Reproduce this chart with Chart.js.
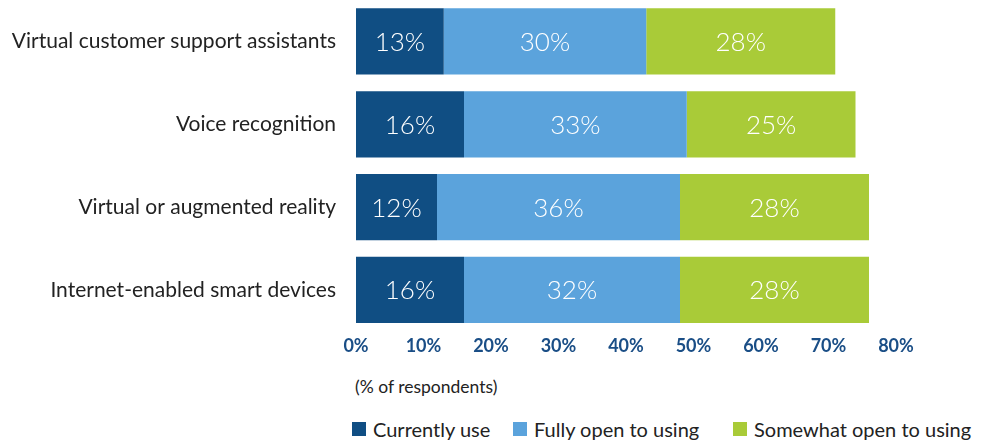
<!DOCTYPE html>
<html>
<head>
<meta charset="utf-8">
<script src="https://cdn.jsdelivr.net/npm/chart.js@4"></script>
<style>
  body { margin: 0; background: #fff; font-family: Lato, sans-serif; }
  #wrap { position: relative; width: 990px; height: 443px; }
  #grafico { position: absolute; left: 0; top: 0; }
  .note { position: absolute; left: 355px; top: 376px; font-size: 17.5px; color: #222; }
  .legend { position: absolute; top: 417px; font-size: 20px; color: #222; display: flex; align-items: center; }
  .legend span.sw { display: inline-block; width: 14px; height: 14px; margin-right: 7px; }
</style>
</head>
<body>
<div id="wrap">
  <canvas id="grafico" width="990" height="362"></canvas>
  <div class="note">(% of respondents)</div>
  <div class="legend" style="left:352px"><span class="sw" style="background:#104e83"></span>Currently use</div>
  <div class="legend" style="left:513px"><span class="sw" style="background:#5ba3dc"></span>Fully open to using</div>
  <div class="legend" style="left:733px"><span class="sw" style="background:#a9cb38"></span>Somewhat open to using</div>
</div>
<script>
const categorias = [
  "Virtual customer support assistants",
  "Voice recognition",
  "Virtual or augmented reality",
  "Internet-enabled smart devices",
];
const usaHoje = [13, 16, 12, 16];
const abertoTotal = [30, 33, 36, 32];
const abertoParcial = [28, 25, 28, 28];
const ticksX = [0, 10, 20, 30, 40, 50, 60, 70, 80];

// escreve o valor no meio de cada barra
const rotulosBarras = {
  id: "rotulosBarras",
  afterDatasetsDraw(chart) {
    const ctx = chart.ctx;
    ctx.save();
    ctx.fillStyle = "#ffffff";
    ctx.font = "300 26px Lato";
    ctx.textAlign = "center";
    ctx.textBaseline = "middle";
    chart.data.datasets.forEach((dataset, i) => {
      chart.getDatasetMeta(i).data.forEach((barra, j) => {
        const meio = (barra.x + barra.base) / 2;
        ctx.fillText(dataset.data[j] + "%", meio, barra.y + 1);
      });
    });
    ctx.restore();
  },
};

const grafico = new Chart(document.getElementById("grafico"), {
  type: "bar",
  data: {
    labels: categorias,
    datasets: [
      { label: "Currently use", data: usaHoje, backgroundColor: "#104e83" },
      { label: "Fully open to using", data: abertoTotal, backgroundColor: "#5ba3dc" },
      { label: "Somewhat open to using", data: abertoParcial, backgroundColor: "#a9cb38" },
    ],
  },
  options: {
    indexAxis: "y",
    responsive: false,
    animation: false,
    layout: { padding: { top: 0, right: 94, bottom: 1, left: 0 } },
    datasets: { bar: { barPercentage: 0.8, categoryPercentage: 1 } },
    plugins: { legend: { display: false }, tooltip: { enabled: false } },
    scales: {
      x: {
        stacked: true,
        min: 0,
        max: 80,
        afterBuildTicks: (eixo) => { eixo.ticks = ticksX.map((v) => ({ value: v })); },
        grid: { display: false, drawTicks: false },
        border: { display: false },
        ticks: {
          padding: 4,
          color: "#1a4e86",
          font: { family: "Lato", size: 18, weight: "bold" },
          callback: (v) => v + "%",
        },
      },
      y: {
        stacked: true,
        afterFit: (eixo) => {
          eixo.width = 356;
          eixo.paddingTop = 0;
          eixo.paddingBottom = 0;
        },
        grid: { display: false, drawTicks: false },
        border: { display: false },
        ticks: {
          padding: 20,
          color: "#222222",
          font: { family: "Lato", size: 21 },
        },
      },
    },
  },
  plugins: [rotulosBarras],
});
</script>
</body>
</html>
